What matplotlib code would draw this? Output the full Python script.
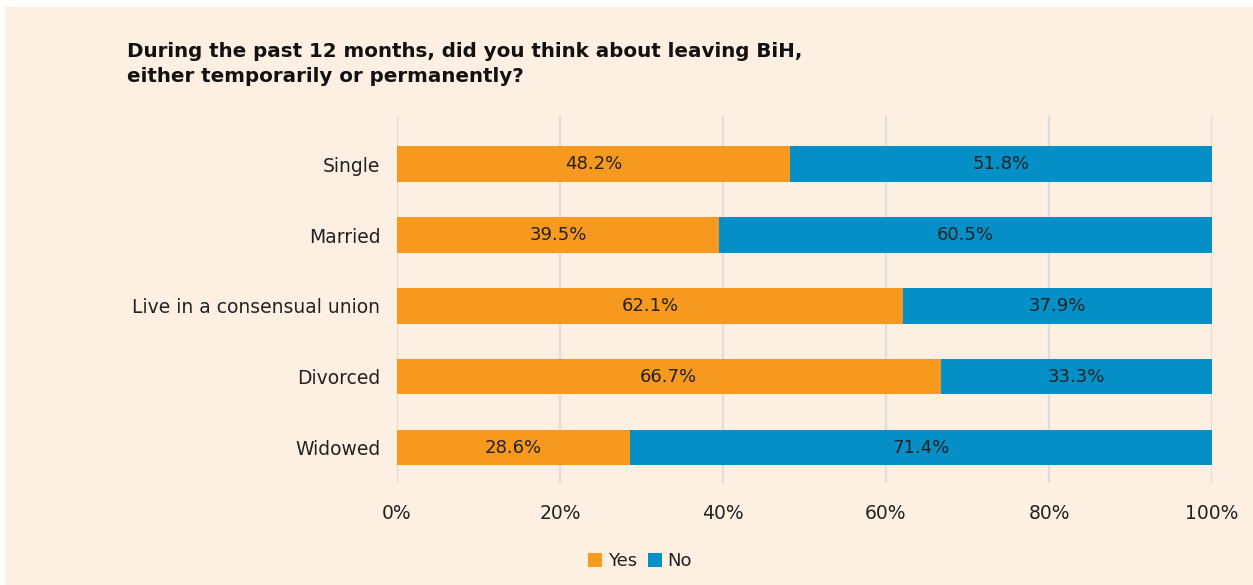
import numpy as np
import matplotlib.pyplot as plt
from matplotlib.patches import Rectangle

categories = ["Single", "Married", "Live in a consensual union", "Divorced", "Widowed"]
yes = [48.2, 39.5, 62.1, 66.7, 28.6]
no = [51.8, 60.5, 37.9, 33.3, 71.4]
xticks = [0, 20, 40, 60, 80, 100]

bg = "#FDEFE1"
orange = "#F7981F"
blue = "#0490C7"

plt.rcParams['font.family'] = ['DejaVu Sans']

fig = plt.figure(figsize=(12.53, 5.85), dpi=100)
fig.patch.set_facecolor("white")
fig.patches.append(Rectangle((5 / 1253, 0), 1, 1 - 7 / 585, transform=fig.transFigure,
                             facecolor=bg, edgecolor="none", zorder=-10))

ax = fig.add_axes([397 / 1253, 1 - 483 / 585, (1212 - 397) / 1253, (483 - 116) / 585])
ax.set_facecolor("none")

y = np.arange(len(categories))
b1 = ax.barh(y, yes, height=0.5, color=orange, label="Yes", zorder=3)
b2 = ax.barh(y, no, left=yes, height=0.5, color=blue, label="No", zorder=3)

for i in range(len(categories)):
    ax.text(yes[i] / 2, y[i], f"{yes[i]:.1f}%", ha="center", va="center",
            fontsize=13, color="#222222", zorder=4)
    ax.text(yes[i] + no[i] / 2, y[i], f"{no[i]:.1f}%", ha="center", va="center",
            fontsize=13, color="#222222", zorder=4)

ax.set_xlim(0, 100)
ax.set_ylim(4.5, -0.68)
ax.set_xticks(xticks)
ax.set_xticklabels([f"{t}%" for t in xticks], fontsize=13.5, color="#222222")
ax.set_yticks(y)
ax.set_yticklabels(categories, fontsize=13.5, color="#222222")
ax.tick_params(axis="x", length=0, pad=15)
ax.tick_params(axis="y", length=0, pad=12)
ax.grid(axis="x", color="#DDDDDD", linewidth=1.5, zorder=0)
for s in ax.spines.values():
    s.set_visible(False)

fig.text(127 / 1253, 1 - 64 / 585, "During the past 12 months, did you think about leaving BiH,\neither temporarily or permanently?",
         fontsize=14.3, fontweight="bold", color="#111111", va="center", linespacing=1.4)

fig.legend(handles=[b1, b2], loc="center", bbox_to_anchor=(640 / 1253, 1 - 561 / 585),
           ncol=2, frameon=False, fontsize=13, handlelength=0.8, handleheight=0.8,
           handletextpad=0.3, columnspacing=0.6, labelcolor="#222222")

fig.savefig("out.png", dpi=100, facecolor=fig.get_facecolor())
